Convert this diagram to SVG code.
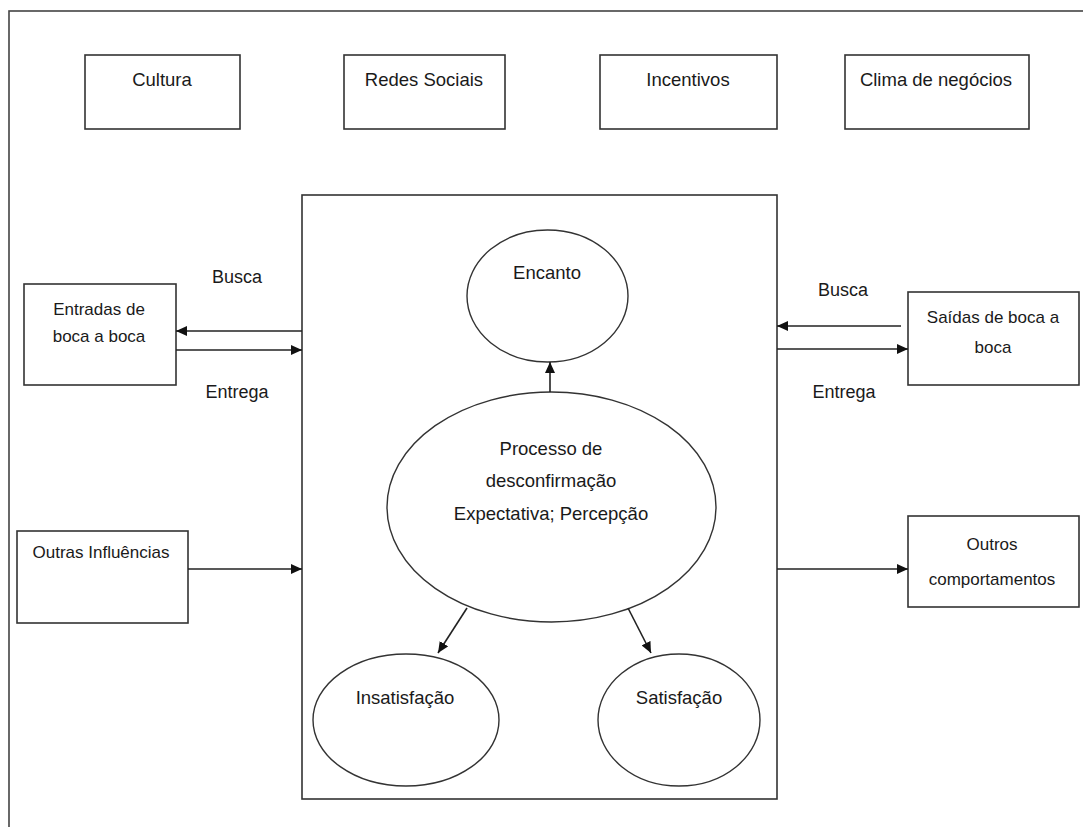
<svg xmlns="http://www.w3.org/2000/svg" width="1083" height="827" viewBox="0 0 1083 827">
<style>
.box{fill:#fff;stroke:#333;stroke-width:1.6}
.ell{fill:#fff;stroke:#333;stroke-width:1.4}
.t{font-family:"Liberation Sans",Arial,sans-serif;fill:#1a1a1a;text-anchor:middle}
.big{font-size:18.5px}
.mid{font-size:18px}
.sm{font-size:17px}
.con{stroke:#222;stroke-width:1.6;fill:none;marker-end:url(#ah)}
</style>
<defs>
<marker id="ah" markerUnits="userSpaceOnUse" markerWidth="12" markerHeight="10" refX="11" refY="5" orient="auto">
<path d="M0,0 L11,5 L0,10 Z" fill="#111"/>
</marker>
</defs>
<rect x="0" y="0" width="1083" height="827" fill="#fff"/>
<rect id="frame" x="9" y="11" width="1090" height="830" fill="none" stroke="#444" stroke-width="1.6"/>

<g id="cultura"><rect class="box" x="85" y="55" width="155" height="74"/><text class="t big" x="162" y="86">Cultura</text></g>
<g id="redes"><rect class="box" x="344" y="55" width="161" height="74"/><text class="t big" x="424" y="86">Redes Sociais</text></g>
<g id="incentivos"><rect class="box" x="600" y="55" width="177" height="74"/><text class="t big" x="688" y="86">Incentivos</text></g>
<g id="clima"><rect class="box" x="845" y="55" width="184" height="74"/><text class="t big" x="936" y="86">Clima de negócios</text></g>

<g id="main"><rect class="box" x="302" y="195" width="475" height="604"/></g>

<g id="entradas"><rect class="box" x="24" y="284" width="152" height="101"/><text class="t sm" x="99" y="315">Entradas de</text><text class="t sm" x="99" y="342">boca a boca</text></g>
<g id="saidas"><rect class="box" x="908" y="292" width="171" height="93"/><text class="t sm" x="993" y="323">Saídas de boca a</text><text class="t sm" x="993" y="353">boca</text></g>
<g id="outras"><rect class="box" x="17" y="531" width="171" height="92"/><text class="t sm" x="101" y="558">Outras Influências</text></g>
<g id="outros"><rect class="box" x="908" y="516" width="171" height="91"/><text class="t sm" x="992" y="550">Outros</text><text class="t sm" x="992" y="585">comportamentos</text></g>

<g id="encanto"><ellipse class="ell" cx="547.5" cy="296" rx="80.5" ry="66"/><text class="t big" x="547" y="279">Encanto</text></g>
<g id="processo"><ellipse class="ell" cx="551.5" cy="507" rx="164.5" ry="115"/><text class="t big" x="551" y="455">Processo de</text><text class="t big" x="551" y="487">desconfirmação</text><text class="t big" x="551" y="520">Expectativa; Percepção</text></g>
<g id="insatisfacao"><ellipse class="ell" cx="406" cy="720" rx="93" ry="66"/><text class="t big" x="405" y="704">Insatisfação</text></g>
<g id="satisfacao"><ellipse class="ell" cx="679" cy="720" rx="81" ry="66"/><text class="t big" x="679" y="704">Satisfação</text></g>

<g id="labels">
<text class="t mid" x="237" y="283">Busca</text>
<text class="t mid" x="237" y="398">Entrega</text>
<text class="t mid" x="843" y="296">Busca</text>
<text class="t mid" x="844" y="398">Entrega</text>
</g>

<g id="connectors">
<line class="con" x1="302" y1="331" x2="176" y2="331"/>
<line class="con" x1="176" y1="350" x2="302" y2="350"/>
<line class="con" x1="901" y1="326" x2="777" y2="326"/>
<line class="con" x1="777" y1="349" x2="908" y2="349"/>
<line class="con" x1="188" y1="569" x2="302" y2="569"/>
<line class="con" x1="777" y1="569" x2="908" y2="569"/>
<line class="con" x1="550" y1="392" x2="550" y2="362"/>
<line class="con" x1="467" y1="608" x2="438" y2="653"/>
<line class="con" x1="628" y1="608" x2="651" y2="653"/>
</g>
</svg>
